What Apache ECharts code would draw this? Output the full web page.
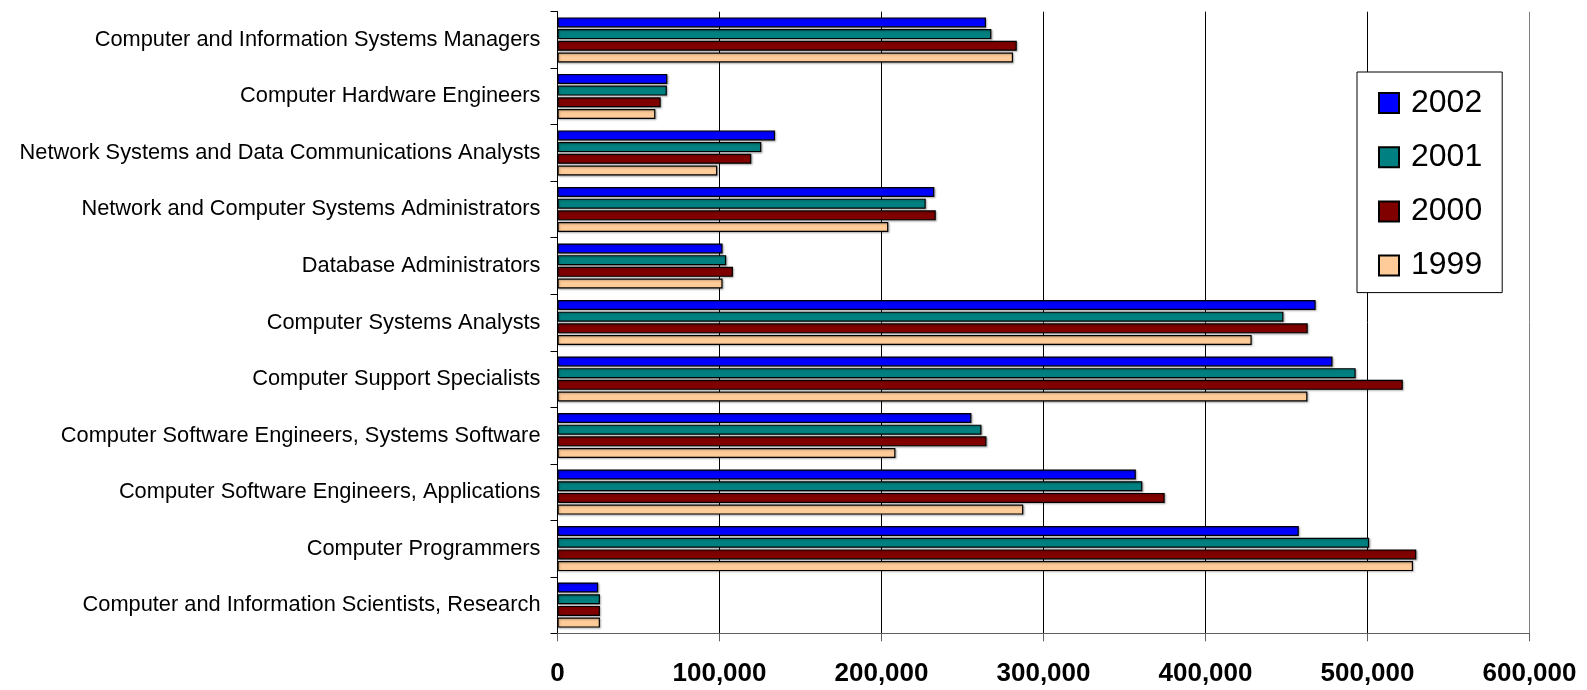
<!DOCTYPE html>
<html>
<head>
<meta charset="utf-8">
<script src="https://cdn.jsdelivr.net/npm/echarts@6/dist/echarts.min.js"></script>
<style>
html,body{margin:0;padding:0;background:#fff;overflow:hidden;}
#c{width:1587px;height:690px;}
</style>
</head>
<body>
<div id="c"></div>
<script>
const categories = [
  "Computer and Information Systems Managers",
  "Computer Hardware Engineers",
  "Network Systems and Data Communications Analysts",
  "Network and Computer Systems Administrators",
  "Database Administrators",
  "Computer Systems Analysts",
  "Computer Support Specialists",
  "Computer Software Engineers, Systems Software",
  "Computer Software Engineers, Applications",
  "Computer Programmers",
  "Computer and Information Scientists, Research"
];
const seriesNames = ["2002", "2001", "2000", "1999"];
const y2002 = [264500, 67800, 134300, 232600, 101900, 468000, 478400, 255500, 357000, 457600, 25100];
const y2001 = [267800, 67500, 125800, 227300, 104100, 448100, 492700, 261700, 361000, 501000, 26200];
const y2000 = [283500, 63700, 119600, 233500, 108300, 463100, 521800, 264800, 374800, 530100, 26200];
const y1999 = [281200, 60400, 98600, 204200, 101900, 428500, 462900, 208600, 287500, 528100, 26200];
const xTicks = [0, 100000, 200000, 300000, 400000, 500000, 600000];

const colors = ["#0000FF", "#008080", "#800000", "#FFCC99"];
const values = [y2002, y2001, y2000, y1999];
const font = "'Liberation Sans', Arial, sans-serif";

const chart = echarts.init(document.getElementById('c'), null, {renderer: 'canvas', width: 1587, height: 690});
chart.setOption({
  animation: false,
  backgroundColor: '#fff',
  grid: {left: 557.5, right: 57.5, top: 11.7, bottom: 56.7, containLabel: false, outerBoundsMode: 'none'},
  legend: {
    orient: 'vertical',
    left: 1357, top: 72,
    padding: [15, 20, 11, 21],
    itemGap: 22.2,
    itemWidth: 20, itemHeight: 20,
    borderColor: '#000', borderWidth: 1,
    backgroundColor: '#fff',
    icon: 'rect',
    textStyle: {fontFamily: font, fontSize: 32, color: '#000', lineHeight: 30, padding: [0, 0, 0, 7]},
    data: seriesNames
  },
  xAxis: {
    type: 'value',
    min: xTicks[0], max: xTicks[xTicks.length - 1], interval: 100000,
    axisLine: {show: true, lineStyle: {color: '#606060', width: 1}},
    axisTick: {show: true, length: 8, lineStyle: {color: '#606060'}},
    splitLine: {show: true, lineStyle: {color: ['#000', '#000', '#000', '#000', '#000', '#000', '#808080'], width: 1}},
    axisLabel: {
      margin: 28,
      fontFamily: font, fontWeight: 'bold', fontSize: 26, color: '#000',
      formatter: v => v.toLocaleString('en-US')
    }
  },
  yAxis: {
    type: 'category',
    inverse: true,
    data: categories,
    axisLine: {show: true, lineStyle: {color: '#000', width: 1}},
    axisTick: {show: true, length: 7, lineStyle: {color: '#000'}},
    axisLabel: {margin: 17, fontFamily: font, fontSize: 21.8, color: '#000'},
    splitLine: {show: false}
  },
  series: seriesNames.map((n, i) => ({
    name: n,
    type: 'bar',
    data: values[i],
    barWidth: 10,
    barGap: '17%',
    itemStyle: {
      color: colors[i], borderColor: '#000', borderWidth: 1.2,
      shadowColor: 'rgba(0,0,0,0.3)', shadowBlur: 2, shadowOffsetX: 1, shadowOffsetY: 1
    }
  }))
});
</script>
</body>
</html>
